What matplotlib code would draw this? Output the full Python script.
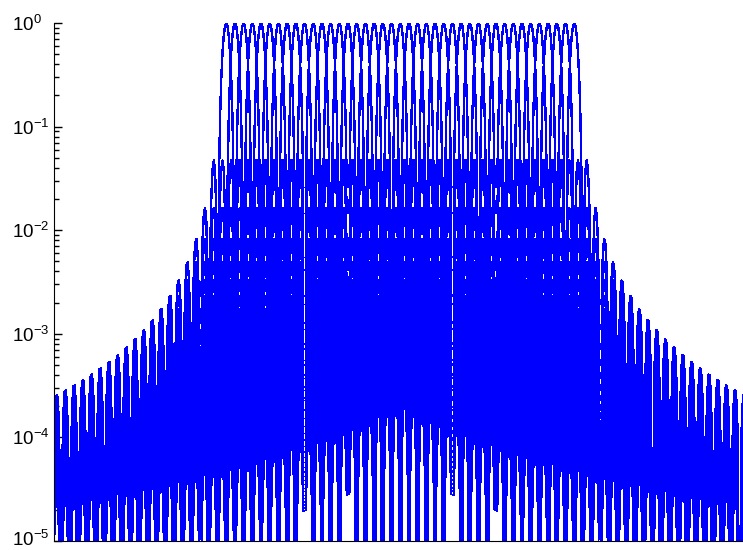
import numpy as np
import matplotlib
matplotlib.use('Agg')
from matplotlib import pyplot as plt
from matplotlib.transforms import ScaledTranslation

# subcarrier layout of the multicarrier symbol
n_carriers = 41          # subcarriers, centred on 0
oversample = 7           # frequency samples per subcarrier spacing
span = 40                # +/- range of the frequency grid, in spacings
# bins where the off-centre spectra come out exactly zero (dropped on a log axis)
null_bins = [-23, -11, -6, 6, 11, 23]
x_limits = (-39.8, 39.4)
y_limits = (1e-5, 1e0)
ytick_values = [1e-5, 1e-4, 1e-3, 1e-2, 1e-1, 1e0]
ytick_labels = ['$10^{-5}$', '$10^{-4}$', '$10^{-3}$', '$10^{-2}$', '$10^{-1}$', '$10^{0}$']

plt.rcParams['font.family'] = ['Liberation Sans', 'DejaVu Sans']
plt.rcParams['mathtext.fontset'] = 'custom'
plt.rcParams['mathtext.rm'] = 'Liberation Sans'
plt.rcParams['mathtext.it'] = 'Liberation Sans:italic'


def carrier_spectra(n, step, half_span):
    freq = np.arange(-half_span, half_span + step / 2, step)
    centres = np.arange(n) - (n - 1) / 2
    # power spectrum of a rectangular-pulsed tone is sinc^2 around its centre
    power = np.sinc(freq[:, None] - centres[None, :]) ** 2
    for b in null_bins:
        row = np.argmin(np.abs(freq - b))
        power[row, centres != b] = np.nan
    return freq, power


def plot_figure(freq, power):
    fig = plt.figure(figsize=(7.43, 5.5), dpi=100)
    ax = fig.add_axes([54 / 743, 9 / 550, 689 / 743, 518 / 550])

    ax.semilogy(freq, power, color='#0000ff', linewidth=1.0, antialiased=False)

    ax.set_xlim(*x_limits)
    ax.set_ylim(*y_limits)
    ax.set_yticks(ytick_values)
    ax.set_yticklabels(ytick_labels, fontsize=13.5)
    ax.set_xticks([])

    ax.spines['top'].set_visible(False)
    ax.spines['right'].set_visible(False)
    ax.tick_params(axis='y', which='major', direction='in', length=6, width=1, pad=30)
    ax.tick_params(axis='y', which='minor', direction='in', length=3.5, width=1)
    for label in ax.get_yticklabels():
        label.set_horizontalalignment('left')
    # keep the lowest label inside the figure
    bottom = ax.yaxis.get_major_ticks()[0].label1
    bottom.set_transform(bottom.get_transform() + ScaledTranslation(0, 3 / 100, fig.dpi_scale_trans))

    fig.savefig('out.png', dpi=100)


freq, power = carrier_spectra(n_carriers, 1 / oversample, span)
plot_figure(freq, power)
